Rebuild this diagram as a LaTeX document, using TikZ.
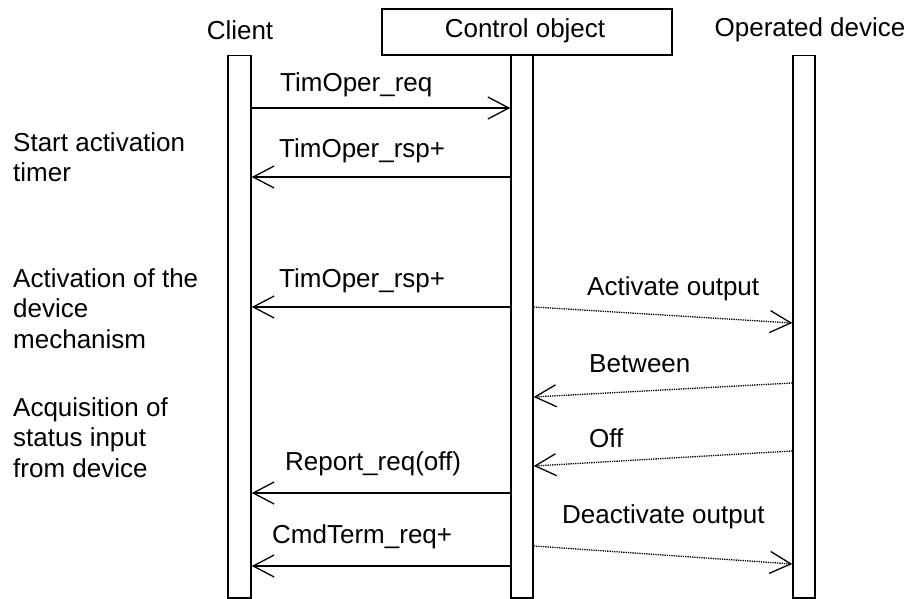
\documentclass[tikz,border=0pt]{standalone}
\usepackage{fontspec}
\setmainfont{Liberation Sans}
\usetikzlibrary{arrows.meta}
\begin{document}
\begin{tikzpicture}[x=1pt,y=-1pt,
  every node/.style={font=\fontsize{26}{30.5}\selectfont, inner sep=0pt},
  lbl/.style={anchor=base west},
  side/.style={anchor=base west, align=left},
  bar/.style={draw, line width=1.5pt, minimum width=#1, minimum height=542pt, anchor=north},
  msg/.style={line width=1.3pt, -{Straight Barb[length=21pt,width=22pt,line width=1.3pt]}},
  sig/.style={line width=1.3pt, dash pattern=on 1.3pt off 1pt,
              -{Straight Barb[length=21pt,width=22pt,line width=1.3pt]}}]
\useasboundingbox (0,0) rectangle (911,599);

% header
\node[draw, line width=1.5pt, minimum width=290pt, minimum height=46pt] (hdr) at (527,32) {};
\node[anchor=base] (tcl) at (240,40) {Client};
\node[anchor=base] (tco) at (525,38) {Control object};
\node[anchor=base] (top) at (810,37) {Operated device};

% lifeline bars
\node[bar=23pt] (cl) at (239.5,55) {};
\node[bar=22pt] (co) at (522,55) {};
\node[bar=22pt] (op) at (804,55) {};

% side notes (base = last line)
\node[side] (n1) at (13,182) {Start activation\\timer};
\node[side] (n2) at (13,348) {Activation of the\\device\\mechanism};
\node[side] (n3) at (13,477) {Acquisition of\\status input\\from device};

% endpoints
\coordinate (a1) at (cl.east |- 0,108);  \coordinate (b1) at (co.west |- 0,108);
\coordinate (a2) at (co.west |- 0,177);  \coordinate (b2) at (cl.east |- 0,177);
\coordinate (a3) at (co.west |- 0,307);  \coordinate (b3) at (cl.east |- 0,307);
\coordinate (a4) at (co.east |- 0,307);  \coordinate (b4) at (op.west |- 0,323);
\coordinate (a5) at (op.west |- 0,383);  \coordinate (b5) at (co.east |- 0,397);
\coordinate (a6) at (op.west |- 0,451);  \coordinate (b6) at (co.east |- 0,466);
\coordinate (a7) at (co.west |- 0,493);  \coordinate (b7) at (cl.east |- 0,493);
\coordinate (a8) at (co.east |- 0,546);  \coordinate (b8) at (op.west |- 0,564);
\coordinate (a9) at (co.west |- 0,566);  \coordinate (b9) at (cl.east |- 0,566);

% messages
\draw[msg] (a1) -- (b1);
\node[lbl] (l1) at (280,92) {TimOper\_req};
\draw[msg] (a2) -- (b2);
\node[lbl] (l2) at (279,158) {TimOper\_rsp+};
\draw[msg] (a3) -- (b3);
\node[lbl] (l3) at (279,287) {TimOper\_rsp+};
\draw[sig] (a4) -- (b4);
\node[lbl] (l4) at (587,295) {Activate output};
\draw[sig] (a5) -- (b5);
\node[lbl] (l5) at (589,372) {Between};
\draw[sig] (a6) -- (b6);
\node[lbl] (l6) at (589,447) {Off};
\draw[msg] (a7) -- (b7);
\node[lbl] (l7) at (285,470) {Report\_req(off)};
\draw[sig] (a8) -- (b8);
\node[lbl] (l8) at (562,523) {Deactivate output};
\draw[msg] (a9) -- (b9);
\node[lbl] (l9) at (272,543) {CmdTerm\_req+};
\end{tikzpicture}
\end{document}
